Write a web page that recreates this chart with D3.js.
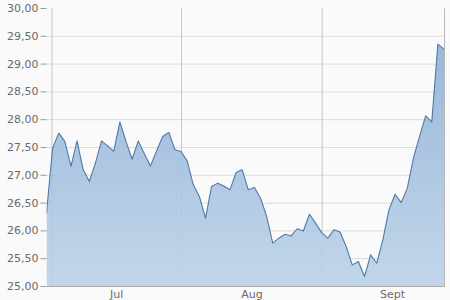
<!DOCTYPE html>
<html>
<head>
<meta charset="utf-8">
<script src="https://cdn.jsdelivr.net/npm/d3@7"></script>
<style>
  html, body { margin: 0; padding: 0; background: #fafafa; }
  svg { display: block; }
  text { font-family: "DejaVu Sans", Verdana, sans-serif; }
</style>
</head>
<body>
<svg id="chart" width="450" height="300"></svg>
<script>
// ---- data ----
const prices = [
  26.31, 27.48, 27.75, 27.60, 27.15, 27.61, 27.09, 26.88, 27.21, 27.61,
  27.52, 27.42, 27.95, 27.60, 27.28, 27.61, 27.38, 27.16, 27.43, 27.69,
  27.76, 27.45, 27.42, 27.25, 26.82, 26.61, 26.22, 26.79, 26.85, 26.80,
  26.73, 27.04, 27.09, 26.73, 26.77, 26.58, 26.25, 25.77, 25.86, 25.93,
  25.90, 26.03, 25.99, 26.29, 26.13, 25.96, 25.86, 26.01, 25.97, 25.71,
  25.38, 25.44, 25.17, 25.56, 25.41, 25.83, 26.37, 26.65, 26.50, 26.76,
  27.30, 27.69, 28.06, 27.95, 29.35, 29.26
];
// month boundaries expressed in trading-day index units
const monthStarts = [0.8, 22, 45, 68];
const monthNames = ["Jul", "Aug", "Sept"];
const yTicks = [25, 25.5, 26, 26.5, 27, 27.5, 28, 28.5, 29, 29.5, 30];

// ---- layout ----
const svg = d3.select("#chart");
const mL = 46.5, mR = 444, mT = 8, mB = 286;

const x = d3.scaleLinear().domain([0, prices.length - 1]).range([mL, mR]);
const y = d3.scaleLinear().domain([25, 30]).range([mB, mT]);

const fmt = d => d.toFixed(2).replace(".", ",");

// gradient
const defs = svg.append("defs");
const grad = defs.append("linearGradient").attr("id", "fillGrad")
  .attr("gradientUnits", "userSpaceOnUse")
  .attr("x1", 0).attr("x2", 0).attr("y1", y(30)).attr("y2", y(25));
grad.append("stop").attr("offset", "0%").attr("stop-color", "#86aad2");
grad.append("stop").attr("offset", "100%").attr("stop-color", "#bad1e8");
defs.append("clipPath").attr("id", "clip").append("rect")
  .attr("x", mL).attr("y", mT).attr("width", mR - mL).attr("height", mB - mT);

// horizontal grid lines
svg.append("g")
  .attr("transform", `translate(${mL},0)`)
  .call(d3.axisLeft(y).tickValues(yTicks.filter(t => t > 25 && t < 30)).tickSize(-(mR - mL)).tickFormat(""))
  .call(g => g.select(".domain").remove())
  .call(g => g.selectAll("line").attr("stroke", "#dcdcdc"));

// vertical month grid lines
svg.append("g")
  .attr("transform", `translate(0,${mB})`)
  .call(d3.axisBottom(x).tickValues(monthStarts.filter(m => m <= prices.length - 1)).tickSize(-(mB - mT)).tickFormat(""))
  .call(g => g.select(".domain").remove())
  .call(g => g.selectAll("line").attr("stroke", "#c8c8c8"));

// area + line
const area = d3.area().x((d, i) => x(i)).y0(y(25)).y1(d => y(d));
const line = d3.line().x((d, i) => x(i)).y(d => y(d));

const plot = svg.append("g").attr("clip-path", "url(#clip)");
plot.append("path").datum(prices).attr("d", area)
  .attr("fill", "url(#fillGrad)").attr("fill-opacity", 0.88);

plot.append("path").datum(prices).attr("d", line)
  .attr("fill", "none").attr("stroke", "#4f79a6").attr("stroke-width", 1.1)
  .attr("stroke-linejoin", "round");

// right frame line
svg.append("g")
  .attr("transform", `translate(${mR},0)`)
  .call(d3.axisRight(y).tickValues([]).tickSizeOuter(0))
  .call(g => g.select(".domain").attr("stroke", "#b8b8b8"));

// y axis (labels + tick marks)
svg.append("g")
  .attr("transform", `translate(${mL},0)`)
  .call(d3.axisLeft(y).tickValues(yTicks).tickFormat(fmt).tickSize(6).tickPadding(2))
  .call(g => g.select(".domain").remove())
  .call(g => g.selectAll("line").attr("stroke", "#9a9a9a"))
  .call(g => g.selectAll("text").attr("fill", "#6a6a6a").attr("font-size", 11)
    .attr("font-family", "DejaVu Sans, sans-serif"));

// x axis: baseline + month labels centred in each month
const mids = monthNames.map((m, i) => (monthStarts[i] + monthStarts[i + 1]) / 2);
svg.append("g")
  .attr("transform", `translate(0,${mB})`)
  .call(d3.axisBottom(x).tickValues(mids).tickFormat((d, i) => monthNames[i]).tickSize(0).tickPadding(4).tickSizeOuter(0))
  .call(g => g.select(".domain").attr("stroke", "#a8a8a8"))
  .call(g => g.selectAll("text").attr("fill", "#6a6a6a").attr("font-size", 11)
    .attr("font-family", "DejaVu Sans, sans-serif"));
</script>
</body>
</html>
